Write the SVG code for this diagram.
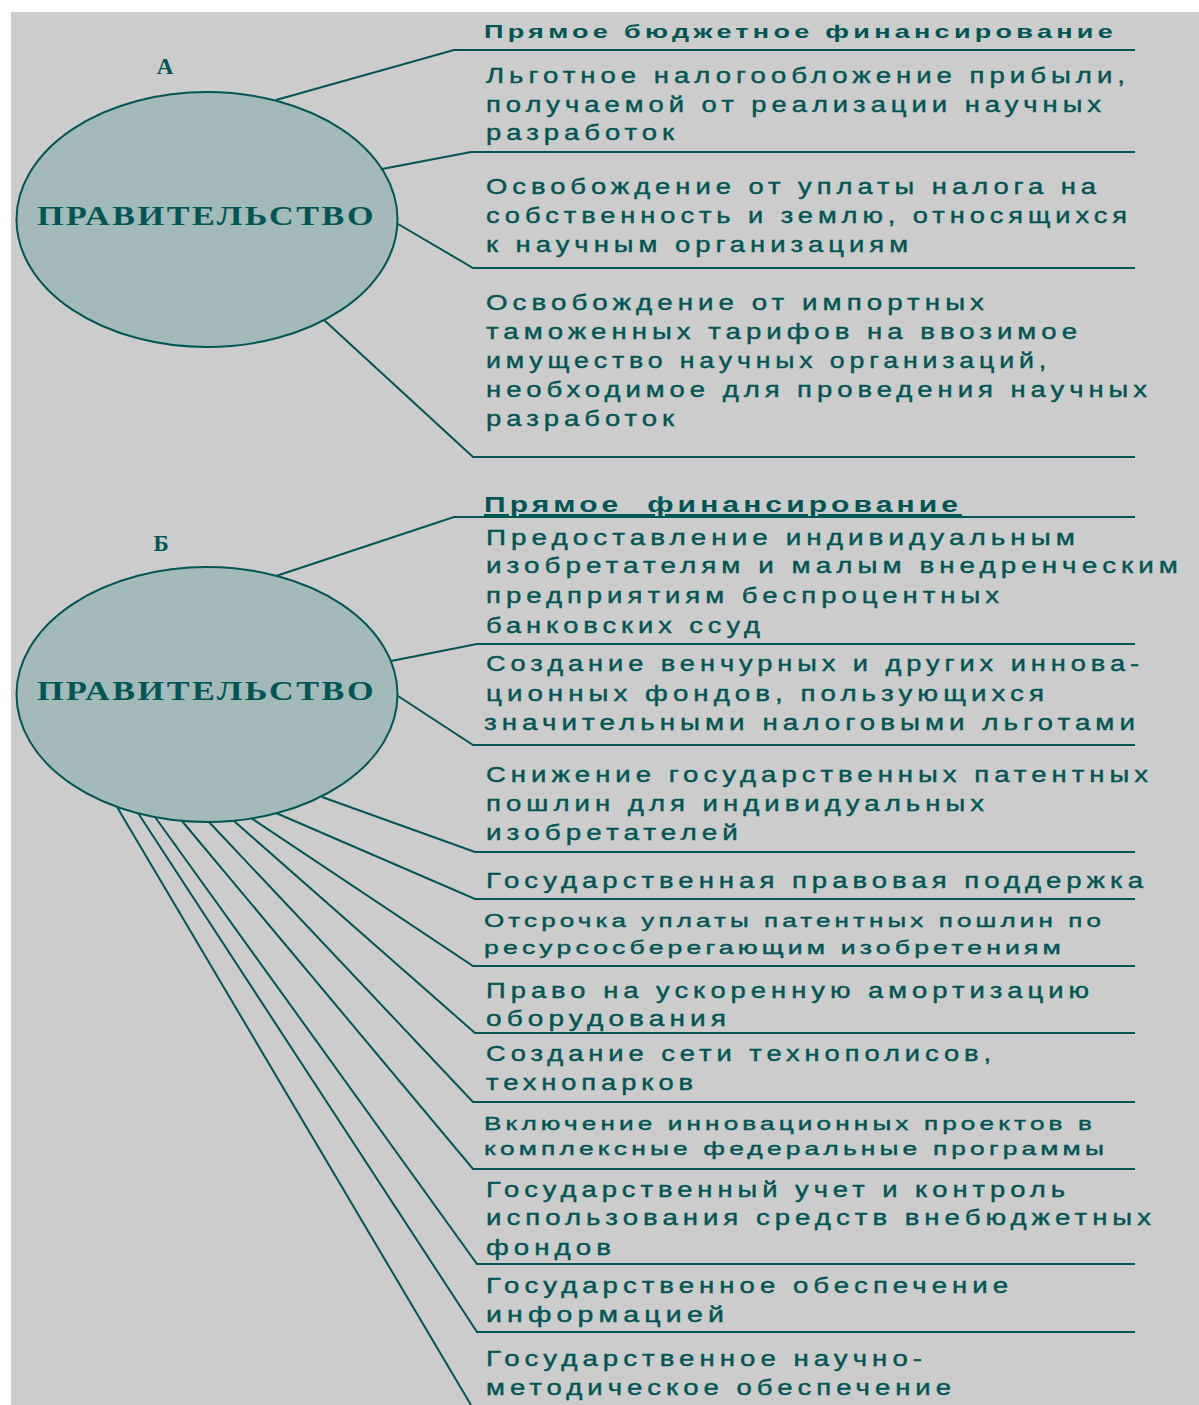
<svg xmlns="http://www.w3.org/2000/svg" width="1199" height="1405" viewBox="0 0 1199 1405">
<style>
.bg{fill:#cccccc}
.ell{fill:#a4b9ba;stroke:#005555;stroke-width:2}
.con{fill:none;stroke:#005555;stroke-width:2}
.t{font-family:"Liberation Sans",Arial,sans-serif;font-size:22px;letter-spacing:4px;fill:#005555;stroke:#005555;stroke-width:0.4px}
.s{font-family:"Liberation Sans",Arial,sans-serif;font-size:19px;letter-spacing:3px;fill:#005555;stroke:#005555;stroke-width:0.4px}
.h{font-family:"Liberation Sans",Arial,sans-serif;font-weight:bold;letter-spacing:3px;fill:#005555}
.gov{font-family:"Liberation Serif","Times New Roman",serif;font-weight:bold;font-size:27px;letter-spacing:2px;fill:#005555}
.lab{font-family:"Liberation Serif","Times New Roman",serif;font-weight:bold;font-size:23px;fill:#005555;text-anchor:middle}
</style>
<rect x="0" y="0" width="1199" height="1405" fill="#ffffff"/>
<rect class="bg" x="11" y="12" width="1188" height="1393"/>

<g id="connectors">
<polyline class="con" points="276,100 454,50 1135,50"/>
<polyline class="con" points="382,169 471,152 1135,152"/>
<polyline class="con" points="398,224 473,268 1135,268"/>
<polyline class="con" points="324,320 473,457 1135,457"/>

<polyline class="con" points="276,576 454,517 1135,517"/>
<polyline class="con" points="391,661 477,644 1135,644"/>
<polyline class="con" points="398,696 473,745 1135,745"/>
<polyline class="con" points="322,797 475,852 1135,852"/>
<polyline class="con" points="276,813 475,899 1135,899"/>
<polyline class="con" points="251,818 473,966 1135,966"/>
<polyline class="con" points="234,821 475,1033 1135,1033"/>
<polyline class="con" points="209,822 473,1102 1135,1102"/>
<polyline class="con" points="182,821 473,1169 1135,1169"/>
<polyline class="con" points="155,817 477,1264 1135,1264"/>
<polyline class="con" points="138,813 477,1332 1135,1332"/>
<polyline class="con" points="117,807 471,1405"/>
</g>

<g id="gov-a">
<ellipse class="ell" cx="207" cy="219.5" rx="190.5" ry="127.5"/>
<text class="lab" x="165" y="74">А</text>
<text class="gov" x="37" y="225" textLength="339" lengthAdjust="spacingAndGlyphs">ПРАВИТЕЛЬСТВО</text>
</g>

<g id="gov-b">
<ellipse class="ell" cx="207" cy="694.5" rx="190.5" ry="127.5"/>
<text class="lab" x="161" y="551">Б</text>
<text class="gov" x="37" y="700" textLength="339" lengthAdjust="spacingAndGlyphs">ПРАВИТЕЛЬСТВО</text>
</g>

<g id="a-head"><text class="h" font-size="19" x="484" y="38" textLength="633" lengthAdjust="spacingAndGlyphs">Прямое бюджетное финансирование</text></g>
<g id="a-1">
<text class="t" x="486" y="83" textLength="644" lengthAdjust="spacingAndGlyphs">Льготное налогообложение прибыли,</text>
<text class="t" x="486" y="111.5" textLength="620" lengthAdjust="spacingAndGlyphs">получаемой от реализации научных</text>
<text class="t" x="486" y="140" textLength="193" lengthAdjust="spacingAndGlyphs">разработок</text>
</g>
<g id="a-2">
<text class="t" x="486" y="194" textLength="615" lengthAdjust="spacingAndGlyphs">Освобождение от уплаты налога на</text>
<text class="t" x="486" y="223" textLength="646" lengthAdjust="spacingAndGlyphs">собственность и землю, относящихся</text>
<text class="t" x="486" y="252" textLength="427" lengthAdjust="spacingAndGlyphs">к научным организациям</text>
</g>
<g id="a-3">
<text class="t" x="486" y="310" textLength="503" lengthAdjust="spacingAndGlyphs">Освобождение от импортных</text>
<text class="t" x="486" y="339" textLength="596" lengthAdjust="spacingAndGlyphs">таможенных тарифов на ввозимое</text>
<text class="t" x="486" y="368" textLength="565" lengthAdjust="spacingAndGlyphs">имущество научных организаций,</text>
<text class="t" x="486" y="397" textLength="666" lengthAdjust="spacingAndGlyphs">необходимое для проведения научных</text>
<text class="t" x="486" y="426" textLength="193" lengthAdjust="spacingAndGlyphs">разработок</text>
</g>

<g id="b-head"><text class="h" font-size="22" x="484" y="512" textLength="478" lengthAdjust="spacingAndGlyphs" style="white-space:pre;text-decoration:underline">Прямое  финансирование</text></g>
<g id="b-1">
<text class="t" x="486" y="545" textLength="594" lengthAdjust="spacingAndGlyphs">Предоставление индивидуальным</text>
<text class="t" x="486" y="573" textLength="697" lengthAdjust="spacingAndGlyphs">изобретателям и малым внедренческим</text>
<text class="t" x="486" y="603" textLength="518" lengthAdjust="spacingAndGlyphs">предприятиям беспроцентных</text>
<text class="t" x="486" y="633" textLength="279" lengthAdjust="spacingAndGlyphs">банковских ссуд</text>
</g>
<g id="b-2">
<text class="t" x="486" y="671" textLength="658" lengthAdjust="spacingAndGlyphs">Создание венчурных и других иннова-</text>
<text class="t" x="486" y="701" textLength="563" lengthAdjust="spacingAndGlyphs">ционных фондов, пользующихся</text>
<text class="t" x="484" y="730" textLength="656" lengthAdjust="spacingAndGlyphs">значительными налоговыми льготами</text>
</g>
<g id="b-3">
<text class="t" x="486" y="782" textLength="667" lengthAdjust="spacingAndGlyphs">Снижение государственных патентных</text>
<text class="t" x="486" y="811" textLength="503" lengthAdjust="spacingAndGlyphs">пошлин для индивидуальных</text>
<text class="t" x="486" y="840" textLength="257" lengthAdjust="spacingAndGlyphs">изобретателей</text>
</g>
<g id="b-4">
<text class="t" x="486" y="888" textLength="662" lengthAdjust="spacingAndGlyphs">Государственная правовая поддержка</text>
</g>
<g id="b-5">
<text class="s" x="484" y="927" textLength="621" lengthAdjust="spacingAndGlyphs">Отсрочка уплаты патентных пошлин по</text>
<text class="s" x="484" y="954" textLength="581" lengthAdjust="spacingAndGlyphs">ресурсосберегающим изобретениям</text>
</g>
<g id="b-6">
<text class="t" x="486" y="998" textLength="608" lengthAdjust="spacingAndGlyphs">Право на ускоренную амортизацию</text>
<text class="t" x="486" y="1026" textLength="245" lengthAdjust="spacingAndGlyphs">оборудования</text>
</g>
<g id="b-7">
<text class="t" x="486" y="1061" textLength="510" lengthAdjust="spacingAndGlyphs">Создание сети технополисов,</text>
<text class="t" x="486" y="1090" textLength="212" lengthAdjust="spacingAndGlyphs">технопарков</text>
</g>
<g id="b-8">
<text class="s" x="484" y="1130" textLength="612" lengthAdjust="spacingAndGlyphs">Включение инновационных проектов в</text>
<text class="s" x="484" y="1155" textLength="624" lengthAdjust="spacingAndGlyphs">комплексные федеральные программы</text>
</g>
<g id="b-9">
<text class="t" x="486" y="1197" textLength="584" lengthAdjust="spacingAndGlyphs">Государственный учет и контроль</text>
<text class="t" x="486" y="1225" textLength="670" lengthAdjust="spacingAndGlyphs">использования средств внебюджетных</text>
<text class="t" x="486" y="1255" textLength="130" lengthAdjust="spacingAndGlyphs">фондов</text>
</g>
<g id="b-10">
<text class="t" x="486" y="1293" textLength="527" lengthAdjust="spacingAndGlyphs">Государственное обеспечение</text>
<text class="t" x="486" y="1322" textLength="243" lengthAdjust="spacingAndGlyphs">информацией</text>
</g>
<g id="b-11">
<text class="t" x="486" y="1366" textLength="441" lengthAdjust="spacingAndGlyphs">Государственное научно-</text>
<text class="t" x="486" y="1395" textLength="470" lengthAdjust="spacingAndGlyphs">методическое обеспечение</text>
</g>
</svg>
